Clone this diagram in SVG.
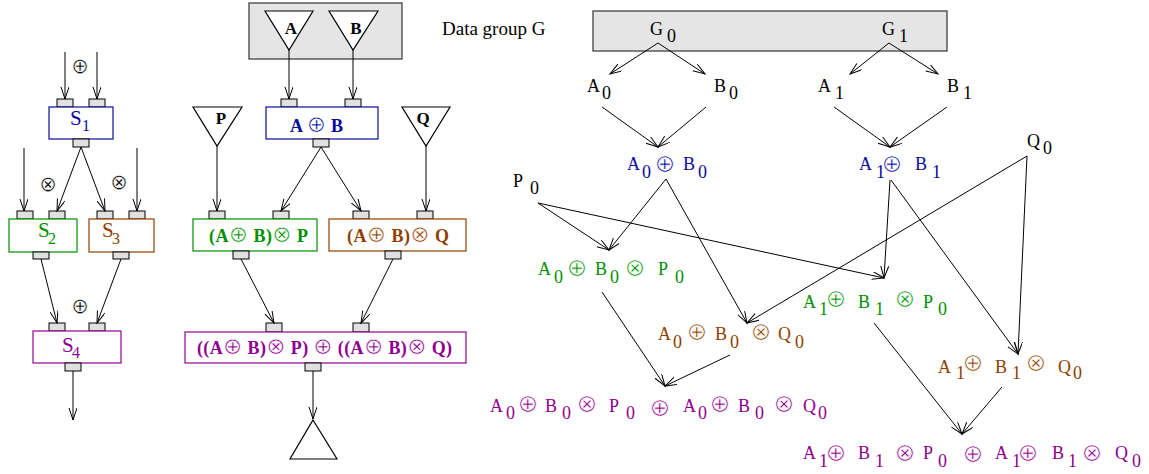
<svg xmlns="http://www.w3.org/2000/svg" width="1149" height="474" viewBox="0 0 1149 474">
<defs>
<marker id="ah" markerWidth="14" markerHeight="10" refX="12" refY="4" orient="auto" markerUnits="userSpaceOnUse"><path d="M0,0 L12,4 L0,8" fill="none" stroke="#000" stroke-width="1"/></marker>
<style>
.port{fill:#e0e0e0;stroke:#000;stroke-width:1}
.box{fill:#fff;stroke-width:1.2}
.gbox{fill:#e5e5e5;stroke:#333;stroke-width:1.2}
.tri{fill:#fff;stroke:#000;stroke-width:1.2}
.c line{stroke:#000;stroke-width:1;marker-end:url(#ah)}
.t{font-family:"Liberation Serif","Times New Roman",serif;font-size:18px}
.s{font-family:"Liberation Serif","Times New Roman",serif;font-size:21px}
.sub{font-size:16px}
.b{font-family:"Liberation Serif","Times New Roman",serif;font-weight:bold;font-size:18px}
.tl{font-family:"Liberation Serif","Times New Roman",serif;font-weight:bold;font-size:17px;text-anchor:middle}
.sym{font-family:"DejaVu Sans",sans-serif;font-weight:normal;font-size:23px;stroke:#fff;stroke-width:0.6}
.op{font-family:"DejaVu Sans",sans-serif;font-size:25px;text-anchor:middle;stroke:#fff;stroke-width:0.8}
.opl{font-family:"DejaVu Sans",sans-serif;font-size:21px;text-anchor:middle;fill:#000;stroke:#fff;stroke-width:0.45;opacity:0.99}
.blue{fill:#0a0a9c}.green{fill:#009000}.brown{fill:#904000}.purple{fill:#900090}.black{fill:#000}
</style>
</defs>

<!-- Left panel -->
<g id="S1">
<rect class="port" x="57" y="99" width="16" height="8"/><rect class="port" x="89" y="99" width="16" height="8"/>
<rect class="box" x="49" y="107" width="64" height="32" stroke="#0a0a9c"/>
<rect class="port" x="73" y="139" width="16" height="8"/>
<text class="s blue" x="70" y="125">S<tspan class="sub" x="82" y="131">1</tspan></text>
</g>
<g id="S2">
<rect class="port" x="17" y="211" width="16" height="8"/><rect class="port" x="49" y="211" width="16" height="8"/>
<rect class="box" x="9" y="219" width="68" height="33" stroke="#009000"/>
<rect class="port" x="33" y="252" width="16" height="7"/>
<text class="s green" x="38" y="237">S<tspan class="sub" x="48" y="244">2</tspan></text>
</g>
<g id="S3">
<rect class="port" x="97" y="211" width="16" height="8"/><rect class="port" x="129" y="211" width="16" height="8"/>
<rect class="box" x="89" y="219" width="65" height="33" stroke="#904000"/>
<rect class="port" x="113" y="252" width="16" height="7"/>
<text class="s brown" x="102" y="237">S<tspan class="sub" x="112" y="244">3</tspan></text>
</g>
<g id="S4">
<rect class="port" x="49" y="323" width="16" height="8"/><rect class="port" x="89" y="323" width="16" height="8"/>
<rect class="box" x="33" y="331" width="88" height="32" stroke="#900090"/>
<rect class="port" x="65" y="363" width="16" height="8"/>
<text class="s purple" x="62" y="352">S<tspan class="sub" x="72" y="358">4</tspan></text>
</g>
<g id="left-ops">
<text class="opl" x="80" y="73">⊕</text>
<text class="opl" x="48" y="191">⊗</text>
<text class="opl" x="119" y="189">⊗</text>
<text class="opl" x="80" y="313">⊕</text>
</g>

<!-- Middle panel -->
<g id="groupAB">
<rect class="gbox" x="249" y="3" width="153" height="56"/>
<polygon class="tri" points="265,11 313,11 289,50"/>
<polygon class="tri" points="329,11 378,11 353,50"/>
<text class="tl black" x="291" y="34">A</text>
<text class="tl black" x="356" y="34">B</text>
</g>
<g id="P">
<polygon class="tri" points="193,107 242,107 217,146"/>
<text class="tl black" x="221" y="124">P</text>
</g>
<g id="Q">
<polygon class="tri" points="402,107 450,107 426,146"/>
<text class="tl black" x="423" y="124">Q</text>
</g>
<g id="AplusB">
<rect class="port" x="281" y="99" width="16" height="8"/><rect class="port" x="345" y="99" width="16" height="8"/>
<rect class="box" x="266" y="107" width="112" height="32" stroke="#0a0a9c"/>
<rect class="port" x="313" y="139" width="16" height="8"/>
<text class="b blue" x="290" y="132" textLength="53" lengthAdjust="spacing">A <tspan class="sym">⊕</tspan> B</text>
</g>
<g id="ABP">
<rect class="port" x="209" y="211" width="16" height="8"/><rect class="port" x="273" y="211" width="16" height="8"/>
<rect class="box" x="193" y="219" width="124" height="32" stroke="#009000"/>
<rect class="port" x="233" y="251" width="16" height="8"/>
<text class="b green" x="209" y="242" textLength="99" lengthAdjust="spacing">(A<tspan class="sym">⊕</tspan> B)<tspan class="sym">⊗</tspan> P</text>
</g>
<g id="ABQ">
<rect class="port" x="353" y="211" width="16" height="8"/><rect class="port" x="417" y="211" width="16" height="8"/>
<rect class="box" x="329" y="219" width="137" height="32" stroke="#904000"/>
<rect class="port" x="385" y="251" width="16" height="8"/>
<text class="b brown" x="347" y="242" textLength="102" lengthAdjust="spacing">(A<tspan class="sym">⊕</tspan> B)<tspan class="sym">⊗</tspan> Q</text>
</g>
<g id="ABPQ">
<rect class="port" x="266" y="323" width="16" height="9"/><rect class="port" x="353" y="323" width="16" height="9"/>
<rect class="box" x="185" y="332" width="281" height="31" stroke="#900090"/>
<rect class="port" x="305" y="363" width="16" height="8"/>
<text class="b purple" x="197" y="354" textLength="255" lengthAdjust="spacing">((A<tspan class="sym">⊕</tspan> B)<tspan class="sym">⊗</tspan> P) <tspan class="sym">⊕</tspan> ((A<tspan class="sym">⊕</tspan> B)<tspan class="sym">⊗</tspan> Q)</text>
</g>
<g id="out">
<polygon class="tri" points="313,420 337,459 290,459"/>
</g>

<!-- Right panel -->
<g id="label-G"><text class="t black" x="442" y="35" style="font-size:19px">Data group G</text></g>
<g id="G">
<rect class="gbox" x="593" y="11" width="354" height="40"/>
<text class="t black"><tspan x="650" y="35">G</tspan><tspan x="667" y="42">0</tspan><tspan x="882" y="35">G</tspan><tspan x="899" y="42">1</tspan></text>
</g>
<g id="A0"><text class="t black"><tspan x="587" y="92">A</tspan><tspan x="602" y="99">0</tspan></text></g>
<g id="B0"><text class="t black"><tspan x="714" y="92">B</tspan><tspan x="729" y="99">0</tspan></text></g>
<g id="A1"><text class="t black"><tspan x="818" y="92">A</tspan><tspan x="835" y="99">1</tspan></text></g>
<g id="B1"><text class="t black"><tspan x="947" y="92">B</tspan><tspan x="963" y="99">1</tspan></text></g>
<g id="P0"><text class="t black"><tspan x="513" y="187">P</tspan><tspan x="530" y="194">0</tspan></text></g>
<g id="Q0"><text class="t black"><tspan x="1027" y="147">Q</tspan><tspan x="1043" y="154">0</tspan></text></g>

<g id="A0B0">
<text class="t blue"><tspan x="627" y="170">A</tspan><tspan x="642" y="178">0</tspan><tspan x="683" y="170">B</tspan><tspan x="698" y="178">0</tspan></text>
<text class="op blue" x="665" y="172">⊕</text>
</g>
<g id="A1B1">
<text class="t blue"><tspan x="859" y="170">A</tspan><tspan x="876" y="178">1</tspan><tspan x="915" y="170">B</tspan><tspan x="932" y="178">1</tspan></text>
<text class="op blue" x="892" y="172">⊕</text>
</g>
<g id="A0B0P0">
<text class="t green"><tspan x="538" y="275">A</tspan><tspan x="554" y="283">0</tspan><tspan x="595" y="275">B</tspan><tspan x="610" y="283">0</tspan><tspan x="658" y="275">P</tspan><tspan x="675" y="283">0</tspan></text>
<text class="op green" x="577" y="276">⊕</text><text class="op green" x="635" y="276">⊗</text>
</g>
<g id="A1B1P0">
<text class="t green"><tspan x="803" y="308">A</tspan><tspan x="819" y="315">1</tspan><tspan x="858" y="308">B</tspan><tspan x="875" y="315">1</tspan><tspan x="923" y="308">P</tspan><tspan x="938" y="315">0</tspan></text>
<text class="op green" x="836" y="307">⊕</text><text class="op green" x="905" y="307">⊗</text>
</g>
<g id="A0B0Q0">
<text class="t brown"><tspan x="658" y="340">A</tspan><tspan x="673" y="348">0</tspan><tspan x="715" y="340">B</tspan><tspan x="730" y="348">0</tspan><tspan x="778" y="340">Q</tspan><tspan x="795" y="348">0</tspan></text>
<text class="op brown" x="697" y="340">⊕</text><text class="op brown" x="761" y="340">⊗</text>
</g>
<g id="A1B1Q0">
<text class="t brown"><tspan x="938" y="373">A</tspan><tspan x="956" y="379">1</tspan><tspan x="995" y="373">B</tspan><tspan x="1012" y="379">1</tspan><tspan x="1058" y="373">Q</tspan><tspan x="1073" y="379">0</tspan></text>
<text class="op brown" x="973" y="371">⊕</text><text class="op brown" x="1036" y="371">⊗</text>
</g>
<g id="result0">
<text class="t purple"><tspan x="490" y="412">A</tspan><tspan x="506" y="419">0</tspan><tspan x="545" y="412">B</tspan><tspan x="562" y="419">0</tspan><tspan x="609" y="412">P</tspan><tspan x="626" y="419">0</tspan><tspan x="683" y="412">A</tspan><tspan x="698" y="419">0</tspan><tspan x="738" y="412">B</tspan><tspan x="755" y="419">0</tspan><tspan x="803" y="412">Q</tspan><tspan x="818" y="419">0</tspan></text>
<text class="op purple" x="528" y="412">⊕</text><text class="op purple" x="587" y="412">⊗</text><text class="op purple" x="660" y="416">⊕</text><text class="op purple" x="720" y="412">⊕</text><text class="op purple" x="784" y="412">⊗</text>
</g>
<g id="result1">
<text class="t purple"><tspan x="803" y="459">A</tspan><tspan x="819" y="467">1</tspan><tspan x="858" y="459">B</tspan><tspan x="875" y="467">1</tspan><tspan x="923" y="459">P</tspan><tspan x="938" y="467">0</tspan><tspan x="995" y="459">A</tspan><tspan x="1012" y="467">1</tspan><tspan x="1052" y="459">B</tspan><tspan x="1068" y="467">1</tspan><tspan x="1115" y="459">Q</tspan><tspan x="1132" y="467">0</tspan></text>
<text class="op purple" x="836" y="461">⊕</text><text class="op purple" x="905" y="461">⊗</text><text class="op purple" x="973" y="462">⊕</text><text class="op purple" x="1028" y="461">⊕</text><text class="op purple" x="1092" y="461">⊗</text>
</g>

<g id="connectors" class="c">
<line x1="65" y1="52" x2="65" y2="99"/>
<line x1="97" y1="52" x2="97" y2="99"/>
<line x1="81" y1="147" x2="57" y2="211"/>
<line x1="81" y1="147" x2="105" y2="211"/>
<line x1="24" y1="148" x2="24" y2="211"/>
<line x1="137" y1="148" x2="137" y2="211"/>
<line x1="41" y1="259" x2="57" y2="323"/>
<line x1="121" y1="259" x2="97" y2="323"/>
<line x1="73" y1="371" x2="73" y2="420"/>

<line x1="289" y1="50" x2="289" y2="99"/>
<line x1="353" y1="50" x2="353" y2="99"/>
<line x1="217" y1="146" x2="217" y2="211"/>
<line x1="321" y1="147" x2="281" y2="211"/>
<line x1="321" y1="147" x2="361" y2="211"/>
<line x1="426" y1="146" x2="426" y2="211"/>
<line x1="241" y1="259" x2="274" y2="323"/>
<line x1="393" y1="259" x2="361" y2="323"/>
<line x1="313" y1="371" x2="313" y2="419"/>

<line x1="658" y1="43" x2="610" y2="74"/>
<line x1="658" y1="43" x2="705" y2="74"/>
<line x1="889" y1="43" x2="850" y2="74"/>
<line x1="889" y1="43" x2="938" y2="74"/>
<line x1="602" y1="107" x2="658" y2="147"/>
<line x1="706" y1="107" x2="658" y2="147"/>
<line x1="834" y1="107" x2="890" y2="147"/>
<line x1="947" y1="107" x2="890" y2="147"/>
<line x1="538" y1="203" x2="609" y2="250"/>
<line x1="538" y1="203" x2="884" y2="278"/>
<line x1="666" y1="179" x2="609" y2="250"/>
<line x1="666" y1="179" x2="747" y2="323"/>
<line x1="890" y1="180" x2="884" y2="278"/>
<line x1="891" y1="180" x2="1018" y2="354"/>
<line x1="1027" y1="156" x2="747" y2="323"/>
<line x1="1027" y1="156" x2="1018" y2="354"/>
<line x1="602" y1="292" x2="665" y2="386"/>
<line x1="730" y1="355" x2="665" y2="386"/>
<line x1="874" y1="323" x2="962" y2="434"/>
<line x1="1002" y1="387" x2="962" y2="434"/>
</g>
</svg>
